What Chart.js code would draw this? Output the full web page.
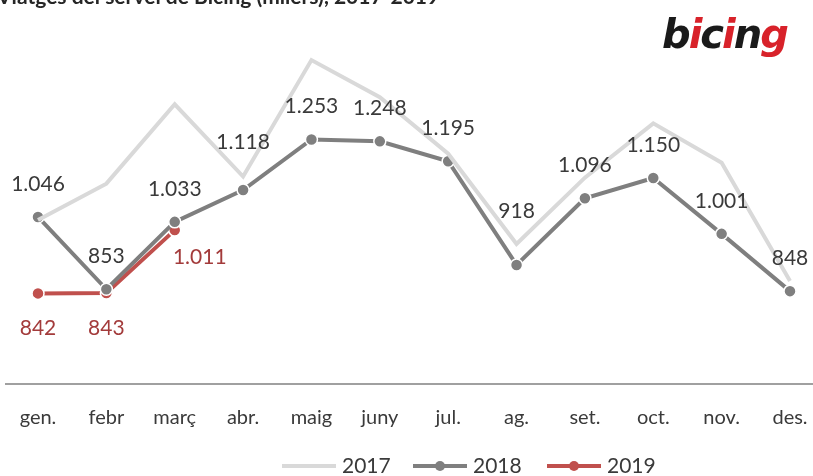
<!DOCTYPE html>
<html>
<head>
<meta charset="utf-8">
<script src="https://cdn.jsdelivr.net/npm/chart.js@4.4.1/dist/chart.umd.min.js"></script>
<style>
  html, body { margin: 0; padding: 0; background: #fff; }
  #wrap { width: 813px; height: 476px; position: relative; }
</style>
</head>
<body>
<div id="wrap"><canvas id="bicing-chart"></canvas></div>
<script>
const months = ['gen.', 'febr', 'març', 'abr.', 'maig', 'juny', 'jul.', 'ag.', 'set.', 'oct.', 'nov.', 'des.'];
const trips2017 = [1038, 1135, 1347, 1154, 1465, 1366, 1215, 974, 1151, 1296, 1191, 875];
const trips2018 = [1046, 853, 1033, 1118, 1253, 1248, 1195, 918, 1096, 1150, 1001, 848];
const trips2019 = [842, 843, 1011];
const seriesNames = ['2017', '2018', '2019'];
const chartTitle = 'Viatges del servei de Bicing (milers), 2017-2019';

const FONT = 'Lato, "Open Sans", sans-serif';
const fmt = v => v >= 1000 ? Math.floor(v / 1000) + '.' + String(v % 1000).padStart(3, '0') : String(v);

const extras = {
    id: 'extras',
    afterDatasetsDraw(chart) {
        const { ctx } = chart;
        ctx.save();
        ctx.font = '21px ' + FONT;
        ctx.textAlign = 'center';
        ctx.textBaseline = 'middle';

        // 2018 labels above the points
        const meta18 = chart.getDatasetMeta(1);
        const lift = { 3: 48, 7: 54 };
        ctx.fillStyle = '#3a3a3a';
        meta18.data.forEach((pt, i) => {
            ctx.fillText(fmt(trips2018[i]), pt.x, pt.y - (lift[i] || 33));
        });

        // 2019 labels below
        const meta19 = chart.getDatasetMeta(2);
        ctx.fillStyle = '#a33b3b';
        meta19.data.forEach((pt, i) => {
            if (i === 2) ctx.fillText(fmt(trips2019[i]), pt.x + 25, pt.y + 27);
            else ctx.fillText(fmt(trips2019[i]), pt.x, pt.y + 35);
        });
        ctx.restore();
    },
    afterDraw(chart) {
        const { ctx, chartArea, width } = chart;
        ctx.save();

        // x axis line
        ctx.strokeStyle = '#a0a0a0';
        ctx.lineWidth = 2;
        ctx.beginPath();
        ctx.moveTo(5, chartArea.bottom);
        ctx.lineTo(width, chartArea.bottom);
        ctx.stroke();

        // title, cut at the top edge
        ctx.font = 'bold 21px ' + FONT;
        ctx.fillStyle = '#262626';
        ctx.textAlign = 'left';
        ctx.textBaseline = 'alphabetic';
        ctx.fillText(chartTitle, -3, 4);

        // logo
        ctx.font = 'bold italic 40px "DejaVu Sans", sans-serif';
        const letters = [['b', '#1a1a1a'], ['i', '#d8222a'], ['c', '#1a1a1a'], ['i', '#d8222a'], ['n', '#1a1a1a'], ['g', '#d8222a']];
        let lx = 662;
        letters.forEach(([ch, col]) => {
            ctx.fillStyle = col;
            ctx.fillText(ch, lx, 48);
            lx += ctx.measureText(ch).width - 2;
        });

        // legend
        const ly = 466;
        const items = [
            { x: 282, color: '#d9d9d9', dot: false },
            { x: 413, color: '#7f7f7f', dot: true },
            { x: 547, color: '#c0504d', dot: true }
        ];
        ctx.font = '21px ' + FONT;
        ctx.textBaseline = 'middle';
        items.forEach((it, i) => {
            ctx.strokeStyle = it.color;
            ctx.lineWidth = 4;
            ctx.beginPath();
            ctx.moveTo(it.x, ly);
            ctx.lineTo(it.x + 54, ly);
            ctx.stroke();
            if (it.dot) {
                ctx.fillStyle = it.color;
                ctx.beginPath();
                ctx.arc(it.x + 27, ly, 5, 0, Math.PI * 2);
                ctx.fill();
            }
            ctx.fillStyle = '#3a3a3a';
            ctx.fillText(seriesNames[i], it.x + 60, ly);
        });
        ctx.restore();
    }
};

new Chart(document.getElementById('bicing-chart'), {
    type: 'line',
    data: {
        labels: months,
        datasets: [
            {
                label: seriesNames[0],
                data: trips2017,
                borderColor: '#d9d9d9',
                borderWidth: 4,
                pointRadius: 0,
                tension: 0
            },
            {
                label: seriesNames[1],
                data: trips2018,
                borderColor: '#7f7f7f',
                backgroundColor: '#7f7f7f',
                borderWidth: 4,
                pointRadius: 6,
                pointBorderColor: '#ffffff',
                pointBorderWidth: 1.5,
                tension: 0
            },
            {
                label: seriesNames[2],
                data: trips2019,
                borderColor: '#c0504d',
                backgroundColor: '#c0504d',
                borderWidth: 4,
                pointRadius: 6,
                pointBorderColor: '#ffffff',
                pointBorderWidth: 1.5,
                tension: 0
            }
        ]
    },
    options: {
        responsive: true,
        maintainAspectRatio: false,
        animation: false,
        layout: { padding: { left: 38, right: 23, top: 47, bottom: 24 } },
        plugins: {
            legend: { display: false },
            tooltip: { enabled: false },
            title: { display: false }
        },
        scales: {
            x: {
                offset: false,
                grid: { display: false, drawTicks: false },
                border: { display: false },
                afterFit(scale) {
                    scale.paddingLeft = 0;
                    scale.paddingRight = 0;
                },
                ticks: {
                    color: '#3a3a3a',
                    font: { family: FONT, size: 20 },
                    padding: 22,
                    maxRotation: 0,
                    autoSkip: false
                }
            },
            y: {
                display: false,
                min: 600,
                max: 1500
            }
        }
    },
    plugins: [extras]
});
</script>
</body>
</html>
